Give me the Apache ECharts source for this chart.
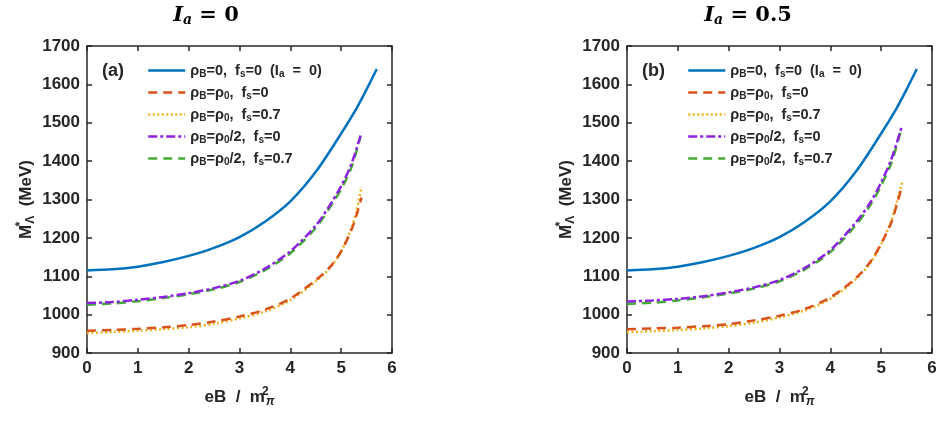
<!DOCTYPE html>
<html>
<head>
<meta charset="utf-8">
<script src="https://cdn.jsdelivr.net/npm/echarts@6/dist/echarts.min.js"></script>
<style>
  html, body { margin: 0; background: #fff; }
  #chart { width: 943px; height: 441px; }
</style>
</head>
<body>
<div id="chart"></div>
<script>
// series names (legend keys)
const seriesNames = ['rB0_fs0', 'rB1_fs0', 'rB1_fs07', 'rBh_fs0', 'rBh_fs07'];
const legendLabels = {
  rB0_fs0: 'ρ{s|B}=0,  f{s|s}=0  (I{s|a}  =  0)',
  rB1_fs0: 'ρ{s|B}=ρ{s|0},  f{s|s}=0',
  rB1_fs07: 'ρ{s|B}=ρ{s|0},  f{s|s}=0.7',
  rBh_fs0: 'ρ{s|B}=ρ{s|0}/2,  f{s|s}=0',
  rBh_fs07: 'ρ{s|B}=ρ{s|0}/2,  f{s|s}=0.7'
};

// eB / m_pi^2 sample points
const eBBlue = [0, 0.5, 1, 1.5, 2, 2.5, 3, 3.5, 4, 4.5, 5, 5.3, 5.5, 5.7];
const eBHalf = [0, 0.5, 1, 1.5, 2, 2.5, 3, 3.5, 4, 4.5, 4.8, 5, 5.2, 5.4];
const eBHalfGreen = [0, 0.5, 1, 1.5, 2, 2.5, 3, 3.5, 4, 4.5, 4.8, 5, 5.2, 5.38];
const eBFull = [0, 0.5, 1, 1.5, 2, 2.5, 3, 3.5, 4, 4.5, 4.8, 5, 5.2, 5.3, 5.4];
const eBFullYellowR = [0, 0.5, 1, 1.5, 2, 2.5, 3, 3.5, 4, 4.5, 4.8, 5, 5.2, 5.3, 5.42];

// panel (a), I_a = 0
const blueA = [1115, 1118, 1125, 1137, 1153, 1174, 1202, 1242, 1295, 1372, 1472, 1537, 1587, 1640];
const orangeA = [958, 960, 963, 967, 973, 982, 995, 1013, 1042, 1090, 1127, 1165, 1220, 1258, 1305];
const yellowA = [952, 955, 958, 962, 967, 976, 990, 1008, 1038, 1087, 1125, 1165, 1225, 1270, 1333];
const purpleA = [1030, 1033, 1039, 1046, 1056, 1069, 1088, 1120, 1165, 1232, 1290, 1335, 1392, 1475];
const greenA = [1026, 1029, 1035, 1043, 1053, 1066, 1085, 1116, 1160, 1226, 1284, 1327, 1383, 1463];

// panel (b), I_a = 0.5
const blueB = [1115, 1118, 1125, 1137, 1153, 1174, 1202, 1242, 1295, 1372, 1472, 1537, 1587, 1640];
const orangeB = [962, 964, 966, 970, 975, 985, 997, 1015, 1045, 1095, 1140, 1185, 1240, 1283, 1330];
const yellowB = [954, 957, 960, 964, 970, 979, 993, 1011, 1041, 1092, 1137, 1183, 1245, 1290, 1348];
const purpleB = [1034, 1037, 1041, 1048, 1058, 1071, 1090, 1122, 1168, 1240, 1295, 1345, 1405, 1488];
const greenB = [1028, 1031, 1037, 1045, 1055, 1068, 1087, 1118, 1163, 1233, 1288, 1337, 1395, 1476];

const xTicks = [0, 1, 2, 3, 4, 5, 6];
const yTicks = [900, 1000, 1100, 1200, 1300, 1400, 1500, 1600, 1700];

const ink = '#262626';
const sans = "'Liberation Sans', Arial, sans-serif";
const styles = {
  rB0_fs0: { color: '#0072BD', type: 'solid' },
  rB1_fs0: { color: '#D95319', type: [9, 6] },
  rB1_fs07: { color: '#EDB120', type: [2, 2.5] },
  rBh_fs0: { color: '#8A22E0', type: [9, 3, 3, 3] },
  rBh_fs07: { color: '#44AA33', type: [9, 6] }
};

function zip(xs, ys) { return xs.map((x, i) => [x, ys[i]]); }

const panels = [
  { left: 87, label: '(a)', title: '{i|I}{s|a}{n| = 0}', tx: 206,
    data: [zip(eBBlue, blueA), zip(eBFull, orangeA), zip(eBFull, yellowA), zip(eBHalf, purpleA), zip(eBHalfGreen, greenA)] },
  { left: 627, label: '(b)', title: '{i|I}{s|a}{n| = 0.5}', tx: 748,
    data: [zip(eBBlue, blueB), zip(eBFull, orangeB), zip(eBFullYellowR, yellowB), zip(eBHalf, purpleB), zip(eBHalfGreen, greenB)] }
];

const axisLine = { show: true, onZero: false, lineStyle: { color: ink, width: 1.5 } };
const axisTick = { show: true, inside: true, length: 5, lineStyle: { color: ink, width: 1.5 } };
const labelFont = { color: ink, fontSize: 17, fontWeight: 'bold', fontFamily: sans };

const grid = [], xAxis = [], yAxis = [], series = [], legend = [], graphic = [];

panels.forEach((p, g) => {
  grid.push({ left: p.left, top: 46, width: 305, height: 307 });
  xAxis.push({
    type: 'value', gridIndex: g, position: 'bottom', min: 0, max: 6, interval: 1,
    axisLine, axisTick, splitLine: { show: false },
    axisLabel: Object.assign({ margin: 7, formatter: v => xTicks.includes(v) ? String(v) : '' }, labelFont),
    name: '{t|eB  /  m}{sp|2}{sb|π}', nameLocation: 'middle', nameGap: 33,
    nameTextStyle: {
      rich: {
        t: { fontSize: 17, fontWeight: 'bold', fontFamily: sans, color: ink },
        sp: { fontSize: 12, fontWeight: 'bold', fontFamily: sans, color: ink, padding: [0, 0, 10, 0], width: 1 },
        sb: { fontSize: 12, fontWeight: 'bold', fontStyle: 'italic', fontFamily: sans, color: ink, padding: [10, 0, 0, 0] }
      }
    }
  });
  xAxis.push({
    type: 'value', gridIndex: g, position: 'top', min: 0, max: 6, interval: 1,
    axisLine, axisTick, axisLabel: { show: false }, splitLine: { show: false }
  });
  yAxis.push({
    type: 'value', gridIndex: g, position: 'left', min: 900, max: 1700, interval: 100,
    axisLine, axisTick, splitLine: { show: false },
    axisLabel: Object.assign({ margin: 7, formatter: v => yTicks.includes(v) ? String(v) : '' }, labelFont),
    name: '{t|M}{sp|*}{sb|Λ}{t|  (MeV)}', nameLocation: 'middle', nameGap: 50, nameRotate: 90,
    nameTextStyle: {
      rich: {
        t: { fontSize: 17, fontWeight: 'bold', fontFamily: sans, color: ink },
        sp: { fontSize: 12, fontWeight: 'bold', fontFamily: sans, color: ink, padding: [0, 0, 10, 0], width: 1 },
        sb: { fontSize: 12, fontWeight: 'bold', fontFamily: sans, color: ink, padding: [10, 0, 0, 0] }
      }
    }
  });
  yAxis.push({
    type: 'value', gridIndex: g, position: 'right', min: 900, max: 1700, interval: 100,
    axisLine, axisTick, axisLabel: { show: false }, splitLine: { show: false }
  });

  seriesNames.forEach((n, k) => {
    series.push({
      type: 'line', name: n, xAxisIndex: 2 * g, yAxisIndex: 2 * g,
      data: p.data[k], smooth: 0.3, showSymbol: false, symbol: 'none',
      lineStyle: { color: styles[n].color, type: styles[n].type, width: 2.5 },
      itemStyle: { color: styles[n].color },
      z: 10 - k
    });
  });

  legend.push({
    left: p.left + 55, top: 58, orient: 'vertical', data: seriesNames,
    itemWidth: 37, itemHeight: 14, itemGap: 6,
    itemStyle: { opacity: 0 },
    lineStyle: { width: 2.5 },
    formatter: n => legendLabels[n],
    textStyle: {
      color: ink, fontSize: 14.5, fontWeight: 'bold', fontFamily: sans,
      rich: { s: { fontSize: 10, fontWeight: 'bold', fontFamily: sans, color: ink, padding: [7, 0, 0, 0] } }
    }
  });

  graphic.push({
    type: 'text', left: p.left + 15, top: 62, z: 20,
    style: { text: p.label, fill: ink, font: 'bold 18px ' + sans }
  });
  graphic.push({
    type: 'text', x: p.tx, y: 16, z: 20,
    style: {
      text: p.title, align: 'center', verticalAlign: 'middle', fill: '#000',
      rich: {
        i: { fontSize: 21, fontWeight: 'bold', fontStyle: 'italic', fontFamily: "'DejaVu Serif', serif", fill: '#000' },
        s: { fontSize: 14, fontWeight: 'bold', fontStyle: 'italic', fontFamily: "'DejaVu Serif', serif", fill: '#000', padding: [9, 0, 0, 0] },
        n: { fontSize: 21, fontWeight: 'bold', fontFamily: "'DejaVu Serif', serif", fill: '#000' }
      }
    }
  });
});

const chart = echarts.init(document.getElementById('chart'), null, { renderer: 'canvas' });
chart.setOption({ animation: false, backgroundColor: '#fff', grid, xAxis, yAxis, series, legend, graphic });
</script>
</body>
</html>
